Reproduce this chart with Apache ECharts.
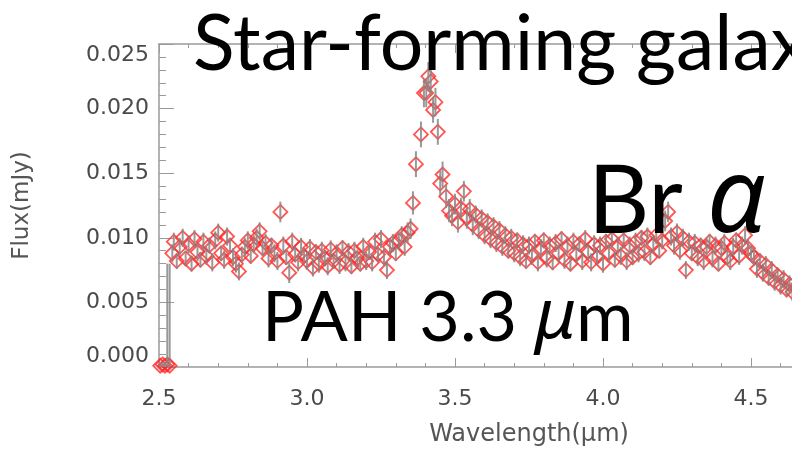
<!DOCTYPE html>
<html>
<head>
<meta charset="utf-8">
<script src="https://cdn.jsdelivr.net/npm/echarts@6/dist/echarts.min.js"></script>
<style>
  html, body { margin: 0; padding: 0; background: #fff; }
  #chart { width: 792px; height: 451px; }
</style>
</head>
<body>
<div id="chart"></div>
<script>
// [wavelength (um), flux (mJy), error (mJy)]
const shortEdge = [
  [2.504, 0.0001, 0.0002], [2.512, 0.0002, 0.0002], [2.520, 0.0001, 0.0003],
  [2.528, 0.0002, 0.0078], [2.536, 0.0001, 0.0079],
];
const blueContinuum = [
  [2.545, 0.0088, 0.0007], [2.55, 0.0097, 0.0007], [2.56, 0.0082, 0.0006], [2.57, 0.0093, 0.0007],
  [2.58, 0.0100, 0.0007], [2.59, 0.0084, 0.0006], [2.60, 0.0095, 0.0007], [2.61, 0.0080, 0.0006],
  [2.62, 0.0099, 0.0007], [2.63, 0.0089, 0.0007], [2.64, 0.0083, 0.0006], [2.65, 0.0097, 0.0007],
  [2.66, 0.0086, 0.0007], [2.67, 0.0094, 0.0006], [2.68, 0.0081, 0.0007], [2.69, 0.0098, 0.0007],
  [2.70, 0.0104, 0.0007], [2.71, 0.0088, 0.0006], [2.72, 0.0083, 0.0007], [2.73, 0.0101, 0.0007],
  [2.74, 0.0094, 0.0006], [2.75, 0.0085, 0.0007], [2.76, 0.0080, 0.0007], [2.77, 0.0074, 0.0007],
  [2.78, 0.0087, 0.0006], [2.79, 0.0093, 0.0007], [2.80, 0.0098, 0.0007], [2.81, 0.0086, 0.0006],
  [2.82, 0.0095, 0.0007], [2.83, 0.0100, 0.0007], [2.84, 0.0105, 0.0007], [2.85, 0.0092, 0.0006],
  [2.86, 0.0096, 0.0007], [2.87, 0.0084, 0.0007], [2.88, 0.0094, 0.0006], [2.89, 0.0088, 0.0007],
  [2.90, 0.0082, 0.0007], [2.91, 0.0120, 0.0008], [2.92, 0.0094, 0.0007], [2.93, 0.0085, 0.0006],
  [2.94, 0.0073, 0.0008], [2.95, 0.0097, 0.0007], [2.96, 0.0087, 0.0006], [2.97, 0.0081, 0.0007],
  [2.98, 0.0093, 0.0007], [2.99, 0.0086, 0.0006], [3.00, 0.0082, 0.0007], [3.01, 0.0092, 0.0007],
  [3.02, 0.0077, 0.0007], [3.03, 0.0089, 0.0006], [3.04, 0.0080, 0.0007], [3.05, 0.0090, 0.0007],
  [3.06, 0.0084, 0.0006], [3.07, 0.0078, 0.0007], [3.08, 0.0091, 0.0007], [3.09, 0.0082, 0.0006],
  [3.10, 0.0088, 0.0007], [3.11, 0.0079, 0.0007], [3.12, 0.0092, 0.0006], [3.13, 0.0081, 0.0007],
  [3.14, 0.0089, 0.0007], [3.15, 0.0078, 0.0006], [3.16, 0.0090, 0.0007], [3.17, 0.0084, 0.0007],
  [3.18, 0.0080, 0.0006], [3.19, 0.0093, 0.0007], [3.20, 0.0082, 0.0007], [3.21, 0.0089, 0.0006],
  [3.22, 0.0081, 0.0007], [3.23, 0.0097, 0.0007], [3.24, 0.0087, 0.0006], [3.25, 0.0099, 0.0007],
  [3.26, 0.0085, 0.0007], [3.27, 0.0075, 0.0007], [3.28, 0.0093, 0.0007], [3.29, 0.0096, 0.0007],
  [3.30, 0.0088, 0.0006], [3.31, 0.0098, 0.0007], [3.32, 0.0102, 0.0007], [3.33, 0.0093, 0.0007],
  [3.34, 0.0104, 0.0008], [3.35, 0.0107, 0.0008],
];
const pahFeature = [
  [3.358, 0.0127, 0.0009], [3.368, 0.0157, 0.0010], [3.385, 0.0180, 0.0010], [3.395, 0.0212, 0.0011],
  [3.403, 0.0212, 0.0011], [3.410, 0.0225, 0.0011], [3.418, 0.0221, 0.0011], [3.426, 0.0199, 0.0010],
  [3.434, 0.0205, 0.0011], [3.442, 0.0182, 0.0010], [3.450, 0.0142, 0.0010], [3.458, 0.0149, 0.0010],
  [3.470, 0.0132, 0.0009], [3.480, 0.0121, 0.0009],
];
const redContinuum = [
  [3.49, 0.0117, 0.0008], [3.50, 0.0126, 0.0008], [3.51, 0.0112, 0.0008], [3.52, 0.0123, 0.0008],
  [3.53, 0.0136, 0.0008], [3.54, 0.0115, 0.0008], [3.55, 0.0122, 0.0008], [3.56, 0.0110, 0.0008],
  [3.57, 0.0118, 0.0007], [3.58, 0.0106, 0.0007], [3.59, 0.0115, 0.0007], [3.60, 0.0102, 0.0007],
  [3.61, 0.0112, 0.0007], [3.62, 0.0099, 0.0007], [3.63, 0.0109, 0.0007], [3.64, 0.0096, 0.0007],
  [3.65, 0.0106, 0.0007], [3.66, 0.0093, 0.0007], [3.67, 0.0102, 0.0007], [3.68, 0.0090, 0.0006],
  [3.69, 0.0100, 0.0007], [3.70, 0.0088, 0.0007], [3.71, 0.0098, 0.0006], [3.72, 0.0085, 0.0007],
  [3.73, 0.0095, 0.0007], [3.74, 0.0082, 0.0006], [3.75, 0.0094, 0.0007], [3.76, 0.0086, 0.0007],
  [3.77, 0.0097, 0.0006], [3.78, 0.0081, 0.0007], [3.79, 0.0092, 0.0007], [3.80, 0.0098, 0.0006],
  [3.81, 0.0084, 0.0007], [3.82, 0.0094, 0.0007], [3.83, 0.0081, 0.0006], [3.84, 0.0096, 0.0007],
  [3.85, 0.0088, 0.0007], [3.86, 0.0099, 0.0006], [3.87, 0.0083, 0.0007], [3.88, 0.0094, 0.0007],
  [3.89, 0.0080, 0.0006], [3.90, 0.0097, 0.0007], [3.91, 0.0087, 0.0007], [3.92, 0.0095, 0.0006],
  [3.93, 0.0082, 0.0007], [3.94, 0.0099, 0.0007], [3.95, 0.0089, 0.0006], [3.96, 0.0081, 0.0007],
  [3.97, 0.0095, 0.0007], [3.98, 0.0085, 0.0006], [3.99, 0.0094, 0.0007], [4.00, 0.0080, 0.0007],
  [4.01, 0.0097, 0.0006], [4.02, 0.0088, 0.0007], [4.03, 0.0099, 0.0007], [4.04, 0.0083, 0.0006],
  [4.05, 0.0094, 0.0007], [4.06, 0.0086, 0.0007], [4.07, 0.0098, 0.0006], [4.08, 0.0082, 0.0007],
  [4.09, 0.0094, 0.0007], [4.10, 0.0085, 0.0006], [4.11, 0.0097, 0.0007], [4.12, 0.0088, 0.0007],
  [4.13, 0.0100, 0.0006], [4.14, 0.0089, 0.0007], [4.15, 0.0101, 0.0007], [4.16, 0.0085, 0.0006],
  [4.17, 0.0095, 0.0007], [4.18, 0.0102, 0.0007], [4.19, 0.0090, 0.0006], [4.20, 0.0098, 0.0007],
];
const brAlphaRegion = [
  [4.21, 0.0113, 0.0008], [4.22, 0.0120, 0.0008], [4.23, 0.0101, 0.0007], [4.24, 0.0094, 0.0007],
  [4.25, 0.0104, 0.0007], [4.26, 0.0090, 0.0007], [4.27, 0.0100, 0.0007], [4.28, 0.0075, 0.0007],
  [4.29, 0.0097, 0.0007], [4.30, 0.0088, 0.0006], [4.31, 0.0096, 0.0007], [4.32, 0.0085, 0.0007],
  [4.33, 0.0094, 0.0006], [4.34, 0.0082, 0.0007], [4.35, 0.0093, 0.0007], [4.36, 0.0097, 0.0006],
  [4.37, 0.0084, 0.0007], [4.38, 0.0094, 0.0007], [4.39, 0.0080, 0.0006], [4.40, 0.0092, 0.0007],
  [4.41, 0.0096, 0.0007], [4.42, 0.0085, 0.0006], [4.43, 0.0082, 0.0007], [4.44, 0.0093, 0.0007],
  [4.45, 0.0098, 0.0006], [4.46, 0.0086, 0.0007], [4.47, 0.0094, 0.0007], [4.48, 0.0102, 0.0007],
  [4.49, 0.0092, 0.0007], [4.50, 0.0088, 0.0006], [4.51, 0.0085, 0.0007], [4.52, 0.0076, 0.0007],
  [4.53, 0.0082, 0.0006], [4.54, 0.0073, 0.0007], [4.55, 0.0079, 0.0007], [4.56, 0.0069, 0.0006],
  [4.57, 0.0075, 0.0007], [4.58, 0.0066, 0.0007], [4.59, 0.0071, 0.0006], [4.60, 0.0063, 0.0007],
  [4.61, 0.0068, 0.0007], [4.62, 0.0060, 0.0006], [4.63, 0.0064, 0.0007], [4.64, 0.0058, 0.0007],
  [4.65, 0.0062, 0.0006],
];
const yTicks = [0, 0.025, 0.005];   // min, max, step
const xTicks = [2.5, 5.0, 0.5];

const spectrum = [].concat(shortEdge, blueContinuum, pahFeature, redContinuum, brAlphaRegion);

const chart = echarts.init(document.getElementById('chart'));

const axisGray = '#9a9a9a';
const labelFont = 'DejaVu Sans';

const xBase = {
  type: 'value',
  min: xTicks[0],
  max: xTicks[1],
  interval: xTicks[2],
  axisLine: { lineStyle: { color: axisGray, width: 1.5 } },
  axisTick: { inside: true, length: 9, lineStyle: { color: axisGray } },
  minorTick: { show: true, splitNumber: 5, length: 4, lineStyle: { color: axisGray } },
  splitLine: { show: false },
};

chart.setOption({
  animation: false,
  grid: { left: 159, top: 44, width: 740, height: 323, outerBoundsMode: 'none' },
  xAxis: [
    Object.assign({}, xBase, {
      position: 'bottom',
      axisLabel: {
        margin: 21, fontSize: 22, color: '#4a4a4a', fontFamily: labelFont,
        formatter: (v) => v.toFixed(1),
      },
      name: 'Wavelength(μm)',
      nameLocation: 'middle',
      nameGap: 56,
      nameTextStyle: { fontSize: 24, color: '#555', fontFamily: labelFont },
    }),
    Object.assign({}, xBase, { position: 'top', axisLabel: { show: false } }),
  ],
  yAxis: {
    type: 'value',
    min: yTicks[0],
    max: yTicks[1],
    interval: yTicks[2],
    axisLine: { lineStyle: { color: axisGray, width: 1.5 } },
    axisTick: { inside: true, length: 15, lineStyle: { color: axisGray } },
    minorTick: { show: true, splitNumber: 5, length: 7, lineStyle: { color: axisGray } },
    splitLine: { show: false },
    axisLabel: {
      margin: 10, fontSize: 22, color: '#4a4a4a', fontFamily: labelFont,
      formatter: (v) => v.toFixed(3),
      verticalAlignMaxLabel: 'top',
      verticalAlignMinLabel: 'bottom',
    },
    name: 'Flux(mJy)',
    nameLocation: 'middle',
    nameGap: 125,
    nameTextStyle: { fontSize: 23, color: '#555', fontFamily: labelFont },
  },
  series: [
    {
      type: 'scatter',
      data: spectrum.map((d) => [d[0], d[1]]),
      symbol: 'diamond',
      symbolSize: 14,
      itemStyle: { color: 'rgba(255,255,255,0)', borderColor: '#ff2a2a', borderWidth: 1.8 },
      z: 2,
    },
    {
      type: 'custom',
      data: spectrum,
      z: 3,
      renderItem: (params, api) => {
        const x = api.value(0), y = api.value(1), e = api.value(2);
        const lo = api.coord([x, Math.max(y - e, 0)]);
        const hi = api.coord([x, y + e]);
        return {
          type: 'line',
          shape: { x1: lo[0], y1: lo[1], x2: hi[0], y2: hi[1] },
          style: { stroke: 'rgba(135,135,135,0.85)', lineWidth: 2 },
        };
      },
    },
  ],
  graphic: [
    {
      type: 'text', left: 193, top: 7, z: 100,
      style: { text: 'Star-forming galax', font: '77px Lato', fill: '#000' },
    },
    {
      type: 'text', left: 588, top: 150, z: 100,
      style: {
        text: '{a|Br }{b|α}',
        rich: {
          a: { font: '95px Lato', fill: '#000' },
          b: { font: 'italic 104px "Noto Sans"', fill: '#000' },
        },
      },
    },
    {
      type: 'text', left: 262, top: 283, z: 100,
      style: {
        text: '{a|PAH 3.3 }{b|μ}{a|m}',
        rich: {
          a: { font: '70px Lato', fill: '#000' },
          b: { font: 'italic 70px "Noto Sans"', fill: '#000' },
        },
      },
    },
  ],
});
</script>
</body>
</html>
